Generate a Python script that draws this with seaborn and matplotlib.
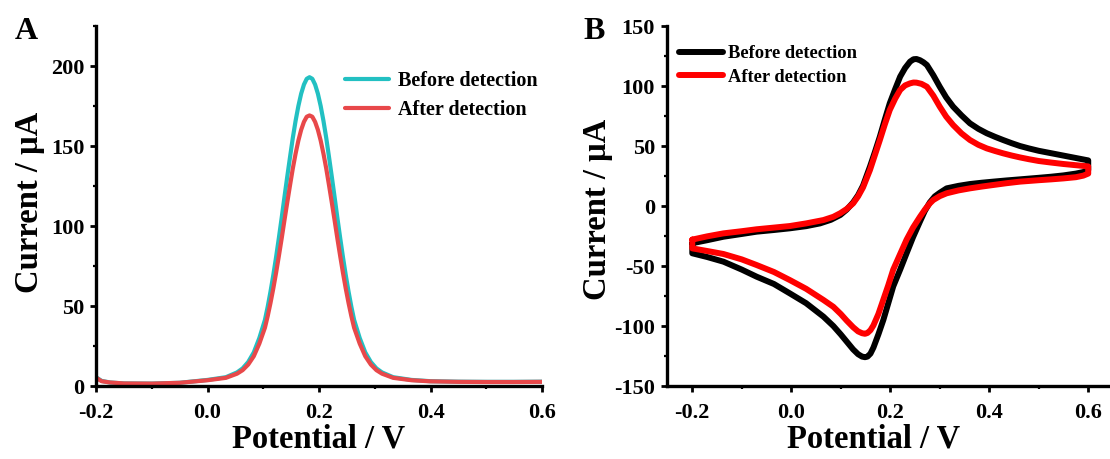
import numpy as np
import pandas as pd
import matplotlib
matplotlib.use("Agg")
import matplotlib.pyplot as plt
from matplotlib.ticker import MultipleLocator
import seaborn as sns

# ---------------- data: panel A (DPV) ----------------
dpv_potential = [-0.200, -0.190, -0.175, -0.150, -0.100, -0.050, 0.000, 0.033, 0.053, 0.063,
                 0.073, 0.083, 0.093, 0.103, 0.108, 0.113, 0.118, 0.123, 0.128, 0.133,
                 0.138, 0.143, 0.148, 0.153, 0.158, 0.163, 0.168, 0.173, 0.178, 0.183,
                 0.188, 0.193, 0.198, 0.203, 0.208, 0.213, 0.218, 0.223, 0.228, 0.233,
                 0.238, 0.243, 0.248, 0.253, 0.258, 0.263, 0.273, 0.283, 0.293, 0.303,
                 0.313, 0.333, 0.366, 0.400, 0.450, 0.500, 0.550, 0.600]
dpv_before = [5.5, 3.2, 2.2, 1.6, 1.5, 2.0, 3.8, 5.5, 8.5, 11.0,
              15.0, 21.0, 30.0, 41.3, 49.6, 59.0, 69.3, 80.5, 92.5, 105.0,
              118.0, 130.7, 143.0, 155.0, 165.7, 175.0, 182.7, 188.4, 192.0, 193.0,
              192.0, 188.4, 182.7, 175.0, 165.7, 155.0, 143.0, 130.7, 118.0, 105.0,
              92.5, 80.5, 69.3, 59.0, 49.6, 41.3, 30.0, 21.0, 15.0, 11.0,
              8.5, 5.5, 3.8, 3.0, 2.7, 2.6, 2.6, 2.7]
dpv_after = [5.2, 3.0, 2.2, 1.6, 1.5, 2.0, 3.6, 5.1, 7.7, 9.9,
             13.4, 18.6, 26.5, 36.4, 43.7, 51.9, 60.9, 70.7, 81.2, 92.1,
             103.5, 114.6, 125.4, 135.9, 145.2, 153.4, 160.1, 165.1, 168.3, 169.1,
             168.3, 165.1, 160.1, 153.4, 145.2, 135.9, 125.4, 114.6, 103.5, 92.1,
             81.2, 70.7, 60.9, 51.9, 43.7, 36.4, 26.5, 18.6, 13.4, 9.9,
             7.7, 5.1, 3.6, 2.9, 2.6, 2.5, 2.5, 2.6]

# ---------------- data: panel B (CV loops, forward branch then reverse branch) ----------------
cv_before_potential = [-0.200, -0.170, -0.137, -0.100, -0.070, -0.035, -0.003, 0.030, 0.058, 0.080,
                       0.099, 0.112, 0.125, 0.135, 0.145, 0.159, 0.169, 0.179, 0.189, 0.199,
                       0.210, 0.220, 0.230, 0.240, 0.247, 0.253, 0.260, 0.267, 0.274, 0.287,
                       0.300, 0.313, 0.327, 0.344, 0.361, 0.378, 0.395, 0.412, 0.428, 0.445,
                       0.462, 0.480, 0.500, 0.525, 0.550, 0.575, 0.600,
                       0.600, 0.590, 0.575, 0.550, 0.525, 0.500, 0.462, 0.435, 0.408, 0.385,
                       0.361, 0.338, 0.314, 0.300, 0.290, 0.280, 0.270, 0.260, 0.246, 0.233,
                       0.220, 0.206, 0.196, 0.186, 0.176, 0.166, 0.160, 0.154, 0.149, 0.143,
                       0.135, 0.125, 0.112, 0.100, 0.085, 0.065, 0.030, -0.003, -0.035, -0.070,
                       -0.100, -0.137, -0.170, -0.200, -0.200]
cv_before_current = [-31.0, -28.5, -25.6, -23.3, -21.4, -20.0, -18.6, -16.8, -14.5, -11.5,
                     -7.5, -3.0, 3.0, 9.0, 17.0, 32.8, 45.0, 57.8, 72.0, 85.6,
                     97.5, 107.8, 115.0, 120.3, 122.3, 122.5, 121.5, 119.8, 117.5, 109.0,
                     99.4, 90.5, 82.8, 75.5, 68.9, 64.3, 60.6, 57.6, 55.0, 52.4,
                     50.0, 48.0, 46.0, 44.0, 42.0, 40.0, 38.0,
                     30.0, 28.3, 27.0, 25.5, 24.4, 23.5, 22.2, 21.3, 20.3, 19.4,
                     18.3, 16.8, 14.7, 11.0, 8.0, 3.0, -4.0, -13.0, -26.0, -39.4,
                     -53.0, -67.0, -81.0, -95.0, -107.0, -118.0, -123.0, -125.5, -126.0, -125.5,
                     -123.5, -119.5, -113.0, -107.0, -100.0, -92.2, -81.0, -72.8, -65.0, -58.9,
                     -53.0, -46.4, -42.5, -39.4, -31.0]

cv_after_potential = [-0.200, -0.170, -0.137, -0.100, -0.070, -0.035, -0.003, 0.030, 0.065, 0.085,
                      0.099, 0.112, 0.125, 0.135, 0.145, 0.159, 0.169, 0.179, 0.189, 0.199,
                      0.210, 0.220, 0.230, 0.240, 0.247, 0.253, 0.263, 0.274, 0.287, 0.300,
                      0.313, 0.327, 0.344, 0.361, 0.378, 0.395, 0.412, 0.428, 0.445, 0.462,
                      0.480, 0.500, 0.525, 0.550, 0.575, 0.600,
                      0.600, 0.590, 0.575, 0.550, 0.525, 0.500, 0.462, 0.435, 0.408, 0.385,
                      0.361, 0.338, 0.314, 0.300, 0.287, 0.280, 0.270, 0.260, 0.246, 0.233,
                      0.220, 0.206, 0.196, 0.186, 0.176, 0.166, 0.160, 0.154, 0.149, 0.143,
                      0.135, 0.125, 0.112, 0.100, 0.085, 0.065, 0.030, -0.003, -0.035, -0.070,
                      -0.100, -0.137, -0.170, -0.200, -0.200]
cv_after_current = [-28.0, -25.3, -22.8, -21.0, -19.4, -18.0, -16.7, -14.5, -11.7, -9.0,
                    -6.0, -2.5, 2.2, 8.0, 15.5, 30.0, 42.5, 55.0, 68.0, 80.0,
                    89.5, 96.7, 100.5, 102.2, 102.9, 102.8, 101.8, 99.4, 92.0, 82.8,
                    74.5, 67.5, 60.5, 55.0, 51.0, 48.0, 45.8, 43.9, 42.1, 40.5,
                    39.0, 37.5, 36.2, 35.0, 34.0, 33.0,
                    27.0, 25.3, 24.0, 23.0, 22.2, 21.5, 20.3, 19.0, 17.5, 16.2,
                    14.7, 13.0, 10.6, 8.2, 5.0, 2.2, -3.0, -9.0, -18.0, -28.0,
                    -40.0, -53.0, -66.0, -78.0, -90.0, -99.5, -103.5, -105.8, -106.5, -106.0,
                    -104.5, -101.0, -95.5, -90.0, -84.0, -78.3, -69.0, -61.7, -55.0, -49.2,
                    -44.5, -40.0, -37.5, -35.3, -28.0]

labels = ["Before detection", "After detection"]
xlabel = "Potential / V"
ylabel = "Current / \u03bcA"

# ---------------- style ----------------
sns.set_style("ticks")
plt.rcParams["font.family"] = ["Liberation Serif", "DejaVu Serif"]
plt.rcParams["font.weight"] = "bold"
plt.rcParams["axes.labelweight"] = "bold"
plt.rcParams["axes.unicode_minus"] = False
plt.rcParams["text.color"] = "black"
plt.rcParams["axes.labelcolor"] = "black"
plt.rcParams["xtick.color"] = "black"
plt.rcParams["ytick.color"] = "black"
plt.rcParams["axes.edgecolor"] = "black"
plt.rcParams["lines.solid_joinstyle"] = "round"

W, H = 1110, 459
fig = plt.figure(figsize=(W / 100, H / 100), dpi=100)

def px_axes(left, right, top, bottom):
    return fig.add_axes([left / W, 1 - bottom / H, (right - left) / W, (bottom - top) / H])

axA = px_axes(96, 542, 26, 386)
axB = px_axes(666.7, 1110, 26, 386)

# Panel A
sns.lineplot(x=dpv_potential, y=dpv_before, ax=axA, color="#22c0c2", lw=3.0,
             sort=False, estimator=None, label=labels[0])
sns.lineplot(x=dpv_potential, y=dpv_after, ax=axA, color="#e8484a", lw=3.0,
             sort=False, estimator=None, label=labels[1])
axA.xaxis.set_major_locator(MultipleLocator(0.2))
axA.xaxis.set_minor_locator(MultipleLocator(0.1))
axA.yaxis.set_major_locator(MultipleLocator(50))
axA.yaxis.set_minor_locator(MultipleLocator(25))

# Panel B
sns.lineplot(x=cv_before_potential, y=cv_before_current, ax=axB, color="#000000", lw=4.3,
             sort=False, estimator=None, label=labels[0])
sns.lineplot(x=cv_after_potential, y=cv_after_current, ax=axB, color="#ff0000", lw=4.3,
             sort=False, estimator=None, label=labels[1])
axB.set_xticks([-0.2, 0.0, 0.2, 0.4, 0.6])
axB.xaxis.set_minor_locator(MultipleLocator(0.1))
axB.yaxis.set_major_locator(MultipleLocator(50))
axB.yaxis.set_minor_locator(MultipleLocator(25))

for ax in (axA, axB):
    sns.despine(ax=ax)
    for s in ("left", "bottom"):
        ax.spines[s].set_linewidth(2.4)
        ax.spines[s].set_color("black")
    ax.tick_params(which="major", direction="out", length=4.5, width=2.0,
                   labelsize=16, colors="black")
    ax.tick_params(axis="y", which="major", pad=4)
    ax.tick_params(axis="x", which="major", pad=8)
    ax.tick_params(which="minor", direction="out", length=2.5, width=1.6)
    ax.set_xticks(ax.get_xticks())
    ax.set_xticklabels([f"{t:.1f}" for t in ax.get_xticks()])
    for lab in ax.get_xticklabels() + ax.get_yticklabels():
        lab.set_fontweight("bold")
    ax.set_xlabel(xlabel, fontsize=23.5, fontweight="bold")
    ax.set_ylabel(ylabel, fontsize=23.5, fontweight="bold")
    ax.grid(False)

axA.set_xlim(-0.2, 0.6)
axA.set_ylim(0, 225)
axB.set_xlim(-0.2517, 0.644)
axB.set_ylim(-150, 150)

axA.xaxis.set_label_coords(0.5, -0.105)
axA.yaxis.set_label_coords(-0.114, 0.51)
axB.xaxis.set_label_coords(0.466, -0.105)
axB.yaxis.set_label_coords(-0.121, 0.49)

legA = axA.legend(loc="upper left", bbox_to_anchor=(345 / W, 1 - 71 / H),
                  bbox_transform=fig.transFigure, frameon=False, borderpad=0,
                  borderaxespad=0, handlelength=2.2, handletextpad=0.44,
                  labelspacing=0.46, prop={"size": 14.5, "weight": "bold"})
legB = axB.legend(loc="upper left", bbox_to_anchor=(678.6 / W, 1 - 45 / H),
                  bbox_transform=fig.transFigure, frameon=False, borderpad=0,
                  borderaxespad=0, handlelength=2.4, handletextpad=0.25,
                  labelspacing=0.37, prop={"size": 13.3, "weight": "bold"})

fig.text(15 / W, 1 - 39 / H, "A", fontsize=23, fontweight="bold", va="baseline", ha="left")
fig.text(583 / W, 1 - 39 / H, "B", fontsize=23, fontweight="bold", va="baseline", ha="left")

fig.savefig("out.png", dpi=100)
